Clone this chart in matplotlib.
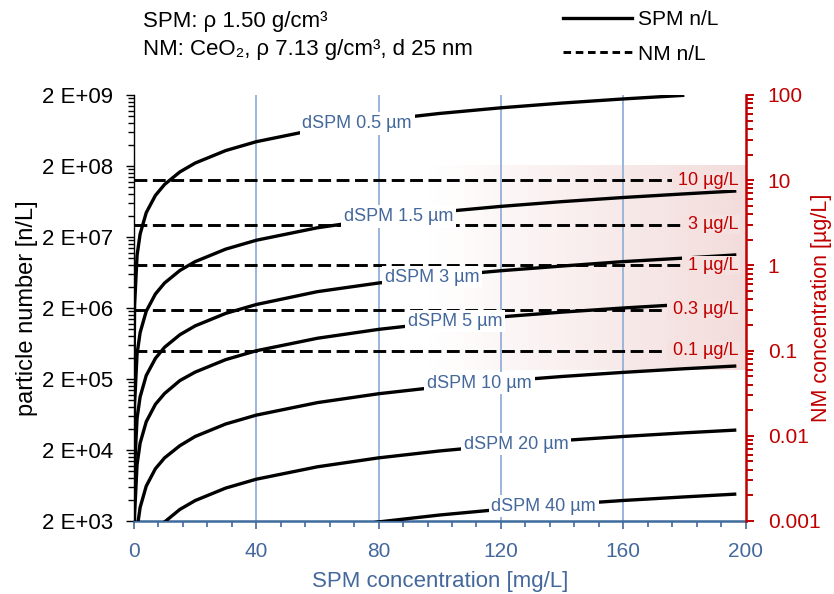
import numpy as np
import matplotlib
matplotlib.use("Agg")
import matplotlib.pyplot as plt
from matplotlib.lines import Line2D
from matplotlib.patches import Rectangle
from matplotlib.ticker import FixedLocator, FuncFormatter, LogLocator, NullFormatter

plt.rcParams['font.family'] = ['Liberation Sans', 'DejaVu Sans']

# SPM concentration grid [mg/L]
spm_conc = [0.0002, 0.002, 0.02, 0.2, 1, 2, 4, 7, 10, 15, 20, 30, 40, 60, 80,
            100, 120, 140, 160, 180, 197]

# SPM particle diameters [µm] and particle numbers [n/L] for each diameter
spm_diam = [0.5, 1.5, 3, 5, 10, 20, 40]
n_d05 = [2.2e3, 2.2e4, 2.2e5, 2.2e6, 1.1e7, 2.2e7, 4.4e7, 7.7e7, 1.1e8, 1.65e8, 2.2e8,
         3.3e8, 4.4e8, 6.6e8, 8.8e8, 1.1e9, 1.32e9, 1.54e9, 1.76e9, 1.98e9, np.nan]
n_d15 = [90, 900, 9.0e3, 9.0e4, 4.5e5, 9.0e5, 1.8e6, 3.15e6, 4.5e6, 6.75e6, 9.0e6,
         1.35e7, 1.8e7, 2.7e7, 3.6e7, 4.5e7, 5.4e7, 6.3e7, 7.2e7, 8.1e7, 8.9e7]
n_d3 = [11, 112, 1.12e3, 1.12e4, 5.6e4, 1.12e5, 2.24e5, 3.9e5, 5.6e5, 8.4e5, 1.12e6,
        1.68e6, 2.24e6, 3.4e6, 4.5e6, 5.6e6, 6.7e6, 7.8e6, 9.0e6, 1.01e7, 1.12e7]
n_d5 = [2.5, 25, 250, 2.5e3, 1.25e4, 2.5e4, 5.0e4, 8.8e4, 1.25e5, 1.9e5, 2.5e5,
        3.75e5, 5.0e5, 7.5e5, 1.0e6, 1.25e6, 1.5e6, 1.75e6, 2.0e6, 2.25e6, 2.46e6]
n_d10 = [0.31, 3.1, 31, 310, 1.55e3, 3.1e3, 6.2e3, 1.09e4, 1.55e4, 2.3e4, 3.1e4,
         4.65e4, 6.2e4, 9.3e4, 1.24e5, 1.55e5, 1.86e5, 2.17e5, 2.48e5, 2.79e5, 3.05e5]
n_d20 = [0.039, 0.39, 3.9, 39, 194, 388, 776, 1.36e3, 1.94e3, 2.91e3, 3.88e3,
         5.82e3, 7.76e3, 1.16e4, 1.55e4, 1.94e4, 2.33e4, 2.72e4, 3.1e4, 3.49e4, 3.82e4]
n_d40 = [0.0049, 0.049, 0.49, 4.9, 24, 49, 97, 170, 243, 365, 486,
         730, 972, 1.46e3, 1.94e3, 2.43e3, 2.92e3, 3.4e3, 3.89e3, 4.37e3, 4.79e3]
spm_series = [n_d05, n_d15, n_d3, n_d5, n_d10, n_d20, n_d40]

# SPM concentration at which each diameter label sits on its curve
label_conc = [73, 86.5, 97.5, 105, 113, 125, 134]

# NM mass concentrations [µg/L] shown as dashed reference lines
nm_conc = [10, 3, 1, 0.3, 0.1]
nm_span = [0, 197]

# highlighted NM concentration band [µg/L] and its SPM range [mg/L]
band_nm = [0.06, 15]
band_spm = [95, 200]

# axis ticks
x_ticks = [0, 40, 80, 120, 160, 200]
left_ticks = [2e3, 2e4, 2e5, 2e6, 2e7, 2e8, 2e9]
right_ticks = [1e-3, 1e-2, 1e-1, 1, 10, 100]

BLUE = '#44689C'
GRID = '#9AB6DA'
RED = '#C00000'
PINK = np.array([242, 220, 219]) / 255.0

fig = plt.figure(figsize=(8.34, 5.94), dpi=100)
ax_w = 611.5
ax = fig.add_axes([134 / 834, 1 - 521 / 594, ax_w / 834, 426 / 594])
ax2 = ax.twinx()

ax.set_xlim(0, 200)
ax.set_yscale('log')
ax.set_ylim(left_ticks[0], left_ticks[-1])
ax2.set_yscale('log')
ax2.set_ylim(right_ticks[0], right_ticks[-1])


def band_color(c):
    a = np.clip((c - band_spm[0]) / (band_spm[1] - band_spm[0]), 0, 1)
    return tuple((1 - a) * np.ones(3) + a * PINK)


# horizontal gradient band (white -> pink)
n_steps = 120
edges = np.linspace(band_spm[0], band_spm[1], n_steps + 1)
for x0, x1 in zip(edges[:-1], edges[1:]):
    ax.add_patch(Rectangle((x0, band_nm[0]), (x1 - x0) * 1.05, band_nm[1] - band_nm[0],
                           transform=ax2.transData, facecolor=band_color(0.5 * (x0 + x1)),
                           edgecolor='none', lw=0, zorder=0.5))

# vertical grid lines
for xv in x_ticks[1:-1]:
    ax.axvline(xv, color=GRID, lw=1.4, zorder=1)

# NM reference lines
for v in nm_conc:
    ax.plot(nm_span, [v, v], transform=ax2.transData, color='black', lw=2.1,
            linestyle=(0, (4.4, 1.9)), dash_capstyle='butt', zorder=2)

# SPM curves with diameter labels
for d, n, lc in zip(spm_diam, spm_series, label_conc):
    n = np.asarray(n, dtype=float)
    ok = ~np.isnan(n)
    x = np.asarray(spm_conc)[ok]
    ax.plot(x, n[ok], color='black', lw=2.4, solid_capstyle='butt', zorder=3)
    ly = 10 ** np.interp(lc, x, np.log10(n[ok]))
    ax.text(lc, ly, f"dSPM {d:g} µm", ha='center', va='center', fontsize=13,
            color=BLUE, zorder=4,
            bbox=dict(boxstyle='square,pad=0.15', facecolor='white', edgecolor='none'))

# NM labels at the right end of the reference lines
for v in nm_conc:
    ax.text(197.8, v, f" {v:g} µg/L", transform=ax2.transData, ha='right', va='center',
            fontsize=13, color=RED, zorder=4,
            bbox=dict(boxstyle='square,pad=0.06', facecolor=band_color(184),
                      edgecolor='none'))

# x axis
ax.set_xticks(x_ticks)
ax.xaxis.set_minor_locator(FixedLocator(np.arange(0, 201, 8)))
ax.tick_params(axis='x', which='both', direction='out', colors=BLUE, labelsize=15, pad=9)
ax.tick_params(axis='x', which='major', length=6, width=1.2)
ax.tick_params(axis='x', which='minor', length=4, width=1.2)
ax.set_xlabel('SPM concentration [mg/L]', color=BLUE, fontsize=16, labelpad=7)

# left axis
minor_left = [b * k for b in left_ticks[:-1] for k in range(2, 10)]
ax.yaxis.set_major_locator(FixedLocator(left_ticks))
ax.yaxis.set_minor_locator(FixedLocator(minor_left))
ax.yaxis.set_minor_formatter(NullFormatter())
ax.yaxis.set_major_formatter(FuncFormatter(
    lambda v, p: "2 E+{:02d}".format(int(round(np.log10(v / 2))))))
ax.tick_params(axis='y', which='both', direction='out', colors='black', labelsize=16, pad=9)
ax.tick_params(axis='y', which='major', length=6, width=1.0)
ax.tick_params(axis='y', which='minor', length=4, width=1.0)
ax.set_ylabel('particle number [n/L]', fontsize=17)
ax.yaxis.label.set_verticalalignment('center')
ax.yaxis.label.set_horizontalalignment('center')
ax.yaxis.set_label_coords((27 - 134) / ax_w, 0.5)

# right axis
ax2.yaxis.set_major_locator(FixedLocator(right_ticks))
ax2.yaxis.set_minor_locator(LogLocator(base=10, subs=np.arange(2, 10)))
ax2.yaxis.set_minor_formatter(NullFormatter())
ax2.yaxis.set_major_formatter(FuncFormatter(lambda v, p: f"{v:g}"))
ax2.tick_params(axis='y', which='both', direction='out', colors=RED, labelsize=15, pad=10)
ax2.tick_params(axis='y', which='major', length=6, width=1.4)
ax2.tick_params(axis='y', which='minor', length=5, width=1.4)
ax2.set_ylabel('NM concentration [µg/L]', color=RED, fontsize=15.5)
ax2.yaxis.label.set_verticalalignment('center')
ax2.yaxis.label.set_horizontalalignment('center')
ax2.yaxis.set_label_coords((821 - 134) / ax_w, 0.5)

# spines
ax.spines['top'].set_visible(False)
ax.spines['right'].set_visible(False)
ax.spines['left'].set_color('black')
ax.spines['left'].set_linewidth(1.0)
ax.spines['bottom'].set_color('#3E6A9E')
ax.spines['bottom'].set_linewidth(1.8)
for s in ('top', 'left', 'bottom'):
    ax2.spines[s].set_visible(False)
ax2.spines['right'].set_color(RED)
ax2.spines['right'].set_linewidth(1.8)

# header notes
fig.text(143 / 834, 1 - 22 / 594, "SPM: ρ 1.50 g/cm³", fontsize=16, va='center', ha='left')
fig.text(143 / 834, 1 - 49 / 594, "NM: CeO₂, ρ 7.13 g/cm³, d 25 nm", fontsize=16,
         va='center', ha='left')

# legend
handles = [Line2D([], [], color='black', lw=2.4),
           Line2D([], [], color='black', lw=2.1, linestyle=(0, (2.6, 1.6)))]
fig.legend(handles, ['SPM n/L', 'NM n/L'], loc='upper left',
           bbox_to_anchor=(563 / 834, 1 - 10 / 594), frameon=False, fontsize=15,
           handlelength=3.3, handletextpad=0.3, labelspacing=0.75,
           borderpad=0, borderaxespad=0)

fig.savefig('out.png', dpi=100)
